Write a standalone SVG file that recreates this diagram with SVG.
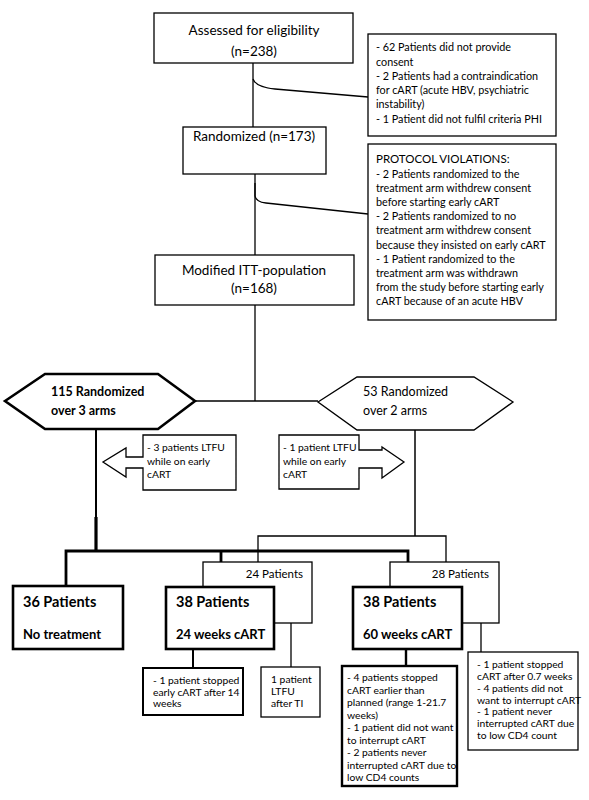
<svg xmlns="http://www.w3.org/2000/svg" width="589" height="800" viewBox="0 0 589 800">
<style>
.bx{fill:#fff;stroke:#000;stroke-width:1.3}
.bt{fill:#fff;stroke:#000;stroke-width:2.6}
.ln{fill:none;stroke:#000;stroke-width:1.3}
text{font-family:Lato,"Liberation Sans",sans-serif;fill:#000}
.h{font-size:13.5px;text-anchor:middle}
.s{font-size:10.8px}
.c{font-size:10.3px}
.b{font-weight:bold}
</style>
<rect width="589" height="800" fill="#fff"/>
<g id="connectors">
<path class="ln" d="M253,63 V127"/>
<path class="ln" d="M253,79 Q256,87 275,89 Q320,93 368,97"/>
<path class="ln" d="M255,174 V255"/>
<path class="ln" d="M255,183 L255,196 Q256,202 266,203 Q320,209 368,214"/>
<path class="ln" d="M255,305 V401"/>
<path class="ln" d="M195,401 H318"/>
<path fill="none" stroke="#000" stroke-width="2" d="M96,429 V517"/>
<path fill="none" stroke="#000" stroke-width="3.2" d="M96,517 V551"/>
<path fill="none" stroke="#000" stroke-width="1.5" d="M415,430 V536"/>
<path class="ln" d="M258,562 V536 H446 V562"/>
<path fill="none" stroke="#000" stroke-width="2.8" d="M66,586 V551 H408 V587 M221,551 V587"/>
<path fill="none" stroke="#000" stroke-width="2" d="M193,649 V668"/>
<path class="ln" d="M291,623 V667"/>
<path fill="none" stroke="#000" stroke-width="2.4" d="M406,649 V666"/>
<path class="ln" d="M481,623 V652"/>
</g>
<g id="assessed">
<rect class="bx" x="154" y="13" width="199" height="50"/>
<text class="h" x="254" y="35">Assessed for eligibility</text>
<text class="h" x="254" y="56">(n=238)</text>
</g>
<g id="excluded">
<rect class="bx" x="368" y="34" width="188" height="102"/>
<text class="s" x="376" y="51">- 62 Patients did not provide</text>
<text class="s" x="376" y="66">consent</text>
<text class="s" x="376" y="80">- 2 Patients had a contraindication</text>
<text class="s" x="376" y="94">for cART (acute HBV, psychiatric</text>
<text class="s" x="376" y="108">instability)</text>
<text class="s" x="376" y="123">- 1 Patient did not fulfil criteria PHI</text>
</g>
<g id="randomized">
<rect class="bx" x="183" y="127" width="143" height="47"/>
<text class="h" x="254" y="141">Randomized (n=173)</text>
</g>
<g id="violations">
<rect class="bx" x="368" y="144" width="188" height="176"/>
<text x="376" y="163" font-size="11.5">PROTOCOL VIOLATIONS:</text>
<text class="s" x="376" y="178">- 2 Patients randomized to the</text>
<text class="s" x="376" y="192">treatment arm withdrew consent</text>
<text class="s" x="376" y="206">before starting early cART</text>
<text class="s" x="376" y="220">- 2 Patients randomized to no</text>
<text class="s" x="376" y="234">treatment arm withdrew consent</text>
<text class="s" x="376" y="249">because they insisted on early cART</text>
<text class="s" x="376" y="263">- 1 Patient randomized to the</text>
<text class="s" x="376" y="277">treatment arm was withdrawn</text>
<text class="s" x="376" y="291">from the study before starting early</text>
<text class="s" x="376" y="305">cART because of an acute HBV</text>
</g>
<g id="itt">
<rect class="bx" x="155" y="255" width="199" height="50"/>
<text class="h" x="254" y="275">Modified ITT-population</text>
<text class="h" x="254" y="293">(n=168)</text>
</g>
<g id="arm3">
<polygon class="bt" points="5,401 45,374 158,374 195,401 158,429 45,429"/>
<text class="b" x="51" y="396" font-size="12.5">115 Randomized</text>
<text class="b" x="51" y="415" font-size="12.5">over 3 arms</text>
</g>
<g id="arm2">
<polygon class="bx" points="318,402 357,377 474,377 513,402 474,430 357,430"/>
<text x="363" y="396" font-size="12.5">53 Randomized</text>
<text x="363" y="415" font-size="12.5">over 2 arms</text>
</g>
<g id="ltfu3">
<polygon class="bx" points="143,435 236,435 236,490 143,490 143,468 126,468 126,477 103,462 126,448 126,457 143,457"/>
<text class="c" x="147" y="451">- 3 patients LTFU</text>
<text class="c" x="147" y="465">while on early</text>
<text class="c" x="147" y="478">cART</text>
</g>
<g id="ltfu2">
<polygon class="bx" points="279,435 359,435 359,450 382,450 382,447 404,462 382,478 382,468 359,468 359,489 279,489"/>
<text class="c" x="283" y="451">- 1 patient LTFU</text>
<text class="c" x="283" y="465">while on early</text>
<text class="c" x="283" y="478">cART</text>
</g>
<g id="p24">
<rect class="bx" x="203" y="562" width="109" height="61"/>
<text x="303" y="578" font-size="11.5" text-anchor="end">24 Patients</text>
</g>
<g id="p28">
<rect class="bx" x="390" y="562" width="109" height="61"/>
<text x="489" y="578" font-size="11.5" text-anchor="end">28 Patients</text>
</g>
<g id="notreat">
<rect class="bt" x="13" y="586" width="110" height="63"/>
<text class="b" x="23" y="607" font-size="14.5">36 Patients</text>
<text class="b" x="23" y="639" font-size="13">No treatment</text>
</g>
<g id="w24">
<rect class="bt" x="166" y="587" width="108" height="62"/>
<text class="b" x="176" y="607" font-size="14.5">38 Patients</text>
<text class="b" x="176" y="639" font-size="13">24 weeks cART</text>
</g>
<g id="w60">
<rect class="bt" x="353" y="587" width="109" height="62"/>
<text class="b" x="363" y="607" font-size="14.5">38 Patients</text>
<text class="b" x="363" y="639" font-size="13">60 weeks cART</text>
</g>
<g id="stop24">
<rect fill="#fff" stroke="#000" stroke-width="2" x="143" y="668" width="100" height="47"/>
<text class="c" x="153" y="684">- 1 patient stopped</text>
<text class="c" x="153" y="696">early cART after 14</text>
<text class="c" x="153" y="707">weeks</text>
</g>
<g id="ltfuti">
<rect class="bx" x="261" y="667" width="59" height="50"/>
<text class="c" x="271" y="683">1 patient</text>
<text class="c" x="271" y="695">LTFU</text>
<text class="c" x="271" y="707">after TI</text>
</g>
<g id="stop60">
<rect fill="#fff" stroke="#000" stroke-width="2.4" x="342" y="666" width="115" height="120"/>
<text class="c" x="347" y="681">- 4 patients stopped</text>
<text class="c" x="347" y="693.5">cART earlier than</text>
<text class="c" x="347" y="706">planned (range 1-21.7</text>
<text class="c" x="347" y="718.5">weeks)</text>
<text class="c" x="347" y="731">- 1 patient did not want</text>
<text class="c" x="347" y="743.5">to interrupt cART</text>
<text class="c" x="347" y="756">- 2 patients never</text>
<text class="c" x="347" y="768.5">interrupted cART due to</text>
<text class="c" x="347" y="781">low CD4 counts</text>
</g>
<g id="stop28">
<rect class="bx" x="468" y="652" width="110" height="98"/>
<text class="c" x="477" y="668">- 1 patient stopped</text>
<text class="c" x="477" y="680">cART after 0.7 weeks</text>
<text class="c" x="477" y="691.5">- 4 patients did not</text>
<text class="c" x="477" y="703.5">want to interrupt cART</text>
<text class="c" x="477" y="715">- 1 patient never</text>
<text class="c" x="477" y="727">interrupted cART due</text>
<text class="c" x="477" y="738.5">to low CD4 count</text>
</g>
</svg>
